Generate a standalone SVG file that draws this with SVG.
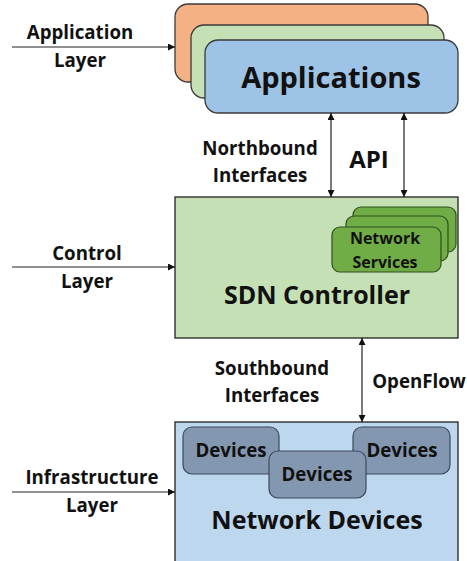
<svg xmlns="http://www.w3.org/2000/svg" width="467" height="561" viewBox="0 0 467 561">
  <style>
    text { font-family: "Open Sans", "Liberation Sans", sans-serif; font-weight: 700; fill: #111; text-anchor: middle; }
    .lbl { font-size: 18.7px; }
    .big { font-size: 25px; }
    .conn { stroke: #222; stroke-width: 1.2; fill: none; }
    .app { stroke: #3a3a3a; stroke-width: 1.3; }
    .ns { fill: #70ad47; stroke: #2f4f1f; stroke-width: 1.2; }
    .dev { fill: #8497b0; stroke: #3c4a5c; stroke-width: 1.2; }
  </style>
  <defs>
    <marker id="arr" viewBox="0 0 10 10" refX="10" refY="5" markerWidth="7" markerHeight="7" orient="auto-start-reverse" markerUnits="userSpaceOnUse">
      <path d="M0,0 L10,5 L0,10 z" fill="#111"/>
    </marker>
  </defs>

  <!-- application layer: stacked application cards -->
  <g id="applications">
    <rect class="app" x="175" y="4" width="253" height="78" rx="13" fill="#f4b183"/>
    <rect class="app" x="191" y="25" width="253" height="73" rx="13" fill="#c5e0b4"/>
    <rect class="app" x="205" y="40" width="253" height="73" rx="13" fill="#9dc3e6"/>
    <text x="331" y="88" style="font-size:29px">Applications</text>
  </g>

  <!-- control layer -->
  <g id="sdn-controller">
    <rect x="175" y="197" width="283" height="141" fill="#c5e0b4" stroke="#111" stroke-width="1.2"/>
    <text class="big" x="317" y="304">SDN Controller</text>
  </g>

  <g id="network-services">
    <rect class="ns" x="353" y="207" width="103" height="45" rx="8"/>
    <rect class="ns" x="346" y="216" width="102" height="45" rx="8"/>
    <rect class="ns" x="332" y="227" width="109" height="45" rx="8"/>
    <text x="385" y="244" style="font-size:16px">Network</text>
    <text x="385" y="268" style="font-size:16px">Services</text>
  </g>

  <!-- infrastructure layer -->
  <g id="network-devices">
    <rect x="175" y="422" width="283" height="145" fill="#bdd7ee" stroke="#111" stroke-width="1.2"/>
    <text class="big" x="317" y="529">Network Devices</text>
  </g>

  <g id="device-left">
    <rect class="dev" x="183" y="427" width="96" height="47" rx="9"/>
    <text class="lbl" x="231" y="457">Devices</text>
  </g>
  <g id="device-right">
    <rect class="dev" x="353" y="427" width="97" height="47" rx="9"/>
    <text class="lbl" x="402" y="457">Devices</text>
  </g>
  <g id="device-middle">
    <rect class="dev" x="269" y="451" width="97" height="47" rx="9"/>
    <text class="lbl" x="317" y="481">Devices</text>
  </g>

  <!-- layer labels -->
  <g id="label-application-layer">
    <text class="lbl" x="80" y="39">Application</text>
    <text class="lbl" x="80" y="67">Layer</text>
  </g>
  <g id="label-control-layer">
    <text class="lbl" x="87" y="260">Control</text>
    <text class="lbl" x="87" y="288">Layer</text>
  </g>
  <g id="label-infrastructure-layer">
    <text class="lbl" x="92" y="484">Infrastructure</text>
    <text class="lbl" x="92" y="512">Layer</text>
  </g>

  <!-- interface labels -->
  <g id="label-northbound">
    <text class="lbl" x="260" y="155">Northbound</text>
    <text class="lbl" x="260" y="182">Interfaces</text>
    <text x="369" y="168" style="font-size:24px">API</text>
  </g>
  <g id="label-southbound">
    <text class="lbl" x="272" y="375">Southbound</text>
    <text class="lbl" x="272" y="402">Interfaces</text>
    <text class="lbl" x="419" y="388">OpenFlow</text>
  </g>

  <!-- connectors -->
  <g id="connectors">
    <line class="conn" x1="12" y1="47" x2="175" y2="47" marker-end="url(#arr)"/>
    <line class="conn" x1="12" y1="267" x2="175" y2="267" marker-end="url(#arr)"/>
    <line class="conn" x1="12" y1="492" x2="175" y2="492" marker-end="url(#arr)"/>
    <line class="conn" x1="331" y1="113" x2="331" y2="197" marker-start="url(#arr)" marker-end="url(#arr)"/>
    <line class="conn" x1="404" y1="113" x2="404" y2="197" marker-start="url(#arr)" marker-end="url(#arr)"/>
    <line class="conn" x1="362" y1="338" x2="362" y2="422" marker-start="url(#arr)" marker-end="url(#arr)"/>
  </g>
</svg>
